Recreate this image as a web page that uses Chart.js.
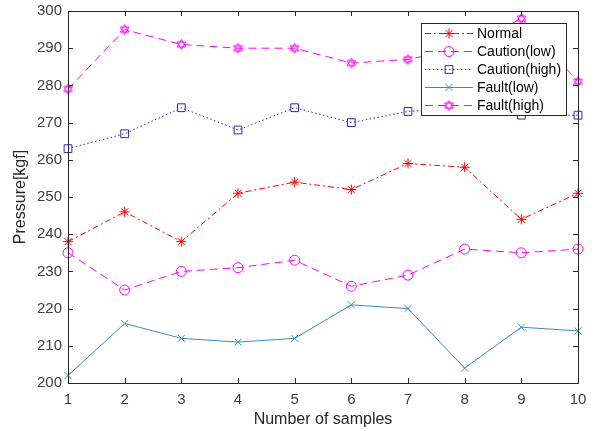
<!DOCTYPE html>
<html>
<head>
<meta charset="utf-8">
<script src="https://cdn.jsdelivr.net/npm/chart.js@4"></script>
<style>
	body { margin: 0; background: #fff; }
	#wrap { width: 594px; height: 431px; }
</style>
</head>
<body>
<div id="wrap"><canvas id="myChart" width="594" height="431"></canvas></div>
<script>
// data
var samples = ["1", "2", "3", "4", "5", "6", "7", "8", "9", "10"]
var normal = [238, 246, 238, 251, 254, 252, 259, 258, 244, 251]
var cautionLow = [235, 225, 230, 231, 233, 226, 229, 236, 235, 236]
var cautionHigh = [263, 267, 274, 268, 274, 270, 273, 274, 272, 272]
var faultLow = [202, 216, 212, 211, 212, 221, 220, 204, 215, 214]
var faultHigh = [279, 295, 291, 290, 290, 286, 287, 290, 298, 281]
var yTicks = [200, 210, 220, 230, 240, 250, 260, 270, 280, 290, 300]

var font = "'Liberation Sans', Arial, sans-serif"
var axisColor = "#262626"

// hexagram marker for Fault(high)
function hexagram(color) {
	var c = document.createElement("canvas")
	c.width = 13
	c.height = 13
	var g = c.getContext("2d")
	g.strokeStyle = color
	g.lineWidth = 1
	var r = 5
	for (var t = 0; t < 2; t++) {
		g.beginPath()
		for (var i = 0; i < 3; i++) {
			var a = -Math.PI / 2 + t * Math.PI + (i * 2 * Math.PI) / 3
			var px = 6.5 + r * Math.cos(a)
			var py = 6.5 + r * Math.sin(a)
			if (i == 0) g.moveTo(px, py)
			else g.lineTo(px, py)
		}
		g.closePath()
		g.stroke()
	}
	return c
}
var hexImg = hexagram("#ff00ff")

function series(label, data, color, dash, style, radius) {
	return {
		label: label,
		data: data,
		borderColor: color,
		backgroundColor: "transparent",
		borderWidth: 1,
		borderDash: dash,
		pointStyle: style,
		pointRadius: radius,
		pointBorderColor: color,
		pointBorderWidth: 1,
		pointBackgroundColor: "transparent",
		pointHoverRadius: radius,
		tension: 0,
		fill: false,
	}
}

// inward ticks + box like matlab
var matlabAxes = {
	id: "matlabAxes",
	afterDatasetsDraw: function (chart) {
		var c = chart.ctx
		var a = chart.chartArea
		var xs = chart.scales.x
		var ys = chart.scales.y
		c.save()
		c.strokeStyle = axisColor
		c.lineWidth = 1
		c.strokeRect(Math.round(a.left) + 0.5, Math.round(a.top) + 0.5, Math.round(a.right - a.left), Math.round(a.bottom - a.top))
		c.beginPath()
		for (var i = 0; i < samples.length; i++) {
			var x = Math.round(xs.getPixelForValue(i)) + 0.5
			c.moveTo(x, a.bottom)
			c.lineTo(x, a.bottom - 5)
			c.moveTo(x, a.top)
			c.lineTo(x, a.top + 5)
		}
		yTicks.forEach(function (v) {
			var y = Math.round(ys.getPixelForValue(v)) + 0.5
			c.moveTo(a.left, y)
			c.lineTo(a.left + 5, y)
			c.moveTo(a.right, y)
			c.lineTo(a.right - 5, y)
		})
		c.stroke()
		c.restore()
	},
}

function marker(c, style, x, y, r, color) {
	c.save()
	c.strokeStyle = color
	c.lineWidth = 1
	c.setLineDash([])
	c.beginPath()
	if (style == "star") {
		for (var k = 0; k < 4; k++) {
			var a = (k * Math.PI) / 4
			c.moveTo(x - r * Math.cos(a), y - r * Math.sin(a))
			c.lineTo(x + r * Math.cos(a), y + r * Math.sin(a))
		}
	} else if (style == "circle") {
		c.arc(x, y, r, 0, Math.PI * 2)
	} else if (style == "rect") {
		var s = r * Math.SQRT1_2
		c.rect(x - s, y - s, 2 * s, 2 * s)
	} else if (style == "crossRot") {
		var d = r * Math.SQRT1_2
		c.moveTo(x - d, y - d)
		c.lineTo(x + d, y + d)
		c.moveTo(x + d, y - d)
		c.lineTo(x - d, y + d)
	}
	c.stroke()
	if (style instanceof HTMLCanvasElement) c.drawImage(style, x - 6.5, y - 6.5)
	c.restore()
}

// legend box inside the axes, top right
var boxLegend = {
	id: "boxLegend",
	afterDraw: function (chart) {
		var c = chart.ctx
		var left = 421, top = 23, w = 145, h = 92
		c.save()
		c.fillStyle = "#fff"
		c.fillRect(left, top, w, h)
		c.strokeStyle = axisColor
		c.lineWidth = 1
		c.strokeRect(left + 0.5, top + 0.5, w, h)
		chart.data.datasets.forEach(function (ds, i) {
			var y = top + 10.5 + i * 18
			c.strokeStyle = ds.borderColor
			c.setLineDash(ds.borderDash)
			c.beginPath()
			c.moveTo(left + 4, y)
			c.lineTo(left + 52, y)
			c.stroke()
			c.setLineDash([])
			marker(c, ds.pointStyle, left + 28, y, ds.pointRadius, ds.borderColor)
			c.fillStyle = "#000"
			c.font = "14px " + font
			c.textBaseline = "middle"
			c.fillText(ds.label, left + 56, y + 1)
		})
		c.restore()
	},
}

var ctx = document.getElementById("myChart").getContext("2d")
var myChart = new Chart(ctx, {
	type: "line",
	data: {
		labels: samples,
		datasets: [
			series("Normal", normal, "#ff0000", [6, 3, 2, 3], "star", 5),
			series("Caution(low)", cautionLow, "#ff00ff", [8, 5], "circle", 5),
			series("Caution(high)", cautionHigh, "#2a2ab4", [1.5, 2.5], "rect", 5.5),
			series("Fault(low)", faultLow, "#3a8cc0", [], "crossRot", 5),
			series("Fault(high)", faultHigh, "#ff00ff", [8, 5], hexImg, 6),
		],
	},
	options: {
		responsive: false,
		animation: false,
		layout: {padding: {left: 0, right: 16, top: 11, bottom: 0}},
		scales: {
			x: {
				offset: false,
				grid: {display: false, drawTicks: false},
				border: {display: false},
				ticks: {color: "#404040", font: {family: font, size: 15}, padding: 8, maxRotation: 0},
				title: {display: true, text: "Number of samples", color: axisColor, font: {family: font, size: 16}, padding: {top: 0, bottom: 2}},
				afterFit: function (s) {
					s.height = 48
					s.paddingLeft = 0
					s.paddingRight = 0
				},
			},
			y: {
				min: 200,
				max: 300,
				grid: {display: false, drawTicks: false},
				border: {display: false},
				ticks: {stepSize: 10, color: "#404040", font: {family: font, size: 15}, padding: 6},
				title: {display: true, text: "Pressure[kgf]", color: axisColor, font: {family: font, size: 16}, padding: {top: 11, bottom: 0}},
				afterFit: function (s) {
					s.width = 68
					s.paddingTop = 0
					s.paddingBottom = 0
				},
			},
		},
		plugins: {
			legend: {display: false},
			tooltip: {enabled: false},
		},
	},
	plugins: [matlabAxes, boxLegend],
})
</script>
</body>
</html>
